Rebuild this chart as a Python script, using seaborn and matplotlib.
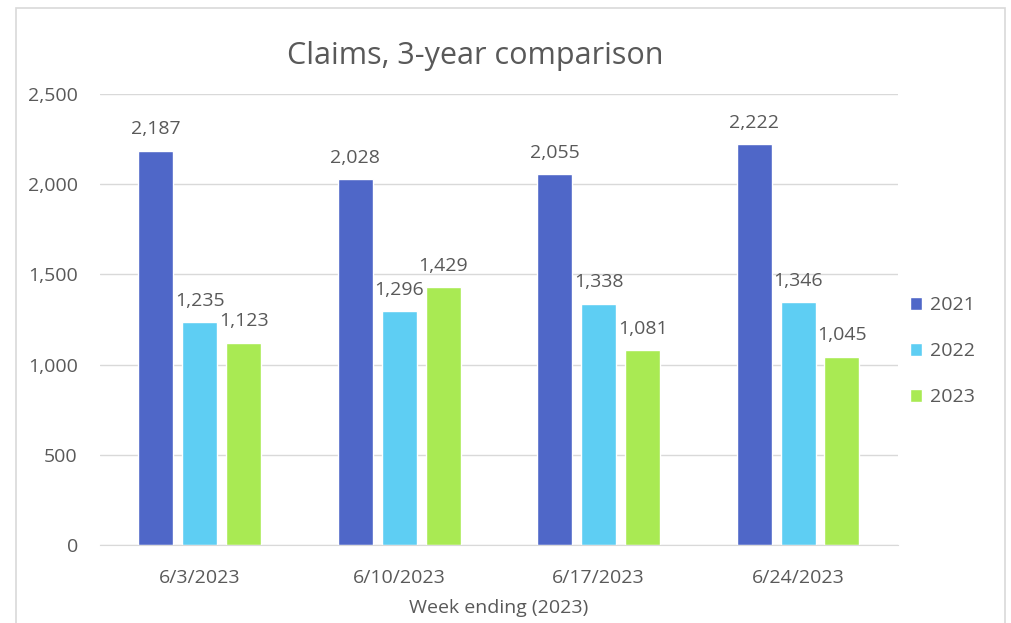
import numpy as np
import pandas as pd
import seaborn as sns
import matplotlib.pyplot as plt
from matplotlib.patches import Rectangle

# Dane z wykresu
weeks = ["6/3/2023", "6/10/2023", "6/17/2023", "6/24/2023"]
years = ["2021", "2022", "2023"]
claims_2021 = [2187, 2028, 2055, 2222]
claims_2022 = [1235, 1296, 1338, 1346]
claims_2023 = [1123, 1429, 1081, 1045]

colors = ["#4F67C8", "#5ECEF3", "#A9EA53"]
text_color = "#595959"

rows = []
for yr, vals in zip(years, [claims_2021, claims_2022, claims_2023]):
    for w, v in zip(weeks, vals):
        rows.append({"Week": w, "Year": yr, "Claims": v})
df = pd.DataFrame(rows)

sns.set_style("white")
plt.rcParams['font.family'] = ['Open Sans', 'DejaVu Sans']

fig = plt.figure(figsize=(10.11, 6.23), dpi=100)
ax = fig.add_axes([0.099, 0.125, 0.789, 0.724])

sns.barplot(data=df, x="Week", y="Claims", hue="Year", palette=colors,
            width=0.66, gap=0.2, ax=ax, saturation=1, legend=True)

for cont in ax.containers:
    ax.bar_label(cont, fmt='{:,.0f}', padding=9, fontsize=14, color=text_color)

ax.set_ylim(0, 2500)
ax.set_xlim(-0.5, 3.5)
ax.set_yticks(np.arange(0, 2501, 500))
ax.yaxis.set_major_formatter(plt.FuncFormatter(lambda v, p: f"{int(v):,}"))
ax.grid(axis='y', color='#D9D9D9', linewidth=1)
ax.set_axisbelow(True)
for s in ['top', 'right', 'left']:
    ax.spines[s].set_visible(False)
ax.spines['bottom'].set_color('#D9D9D9')
ax.tick_params(axis='both', length=0, labelsize=14, colors=text_color)
ax.tick_params(axis='x', pad=17)
ax.tick_params(axis='y', pad=16)

ax.set_xlabel("Week ending (2023)", fontsize=14, color=text_color, labelpad=9)
ax.set_ylabel("")
fig.text(0.47, 0.91, "Claims, 3-year comparison", ha='center', va='center',
         fontsize=22, color=text_color)

ax.legend(loc='center left', bbox_to_anchor=(0.993, 0.43), frameon=False,
          fontsize=14, handlelength=0.65, handleheight=0.65, labelspacing=1.45,
          handletextpad=0.4, labelcolor=text_color)

fig.add_artist(Rectangle((16 / 1011, -0.01), (1005 - 16) / 1011, 1 - 8 / 623 + 0.01,
                         transform=fig.transFigure, fill=False,
                         edgecolor='#D9D9D9', linewidth=1.2))

plt.savefig("out.png", dpi=100)
plt.close()
